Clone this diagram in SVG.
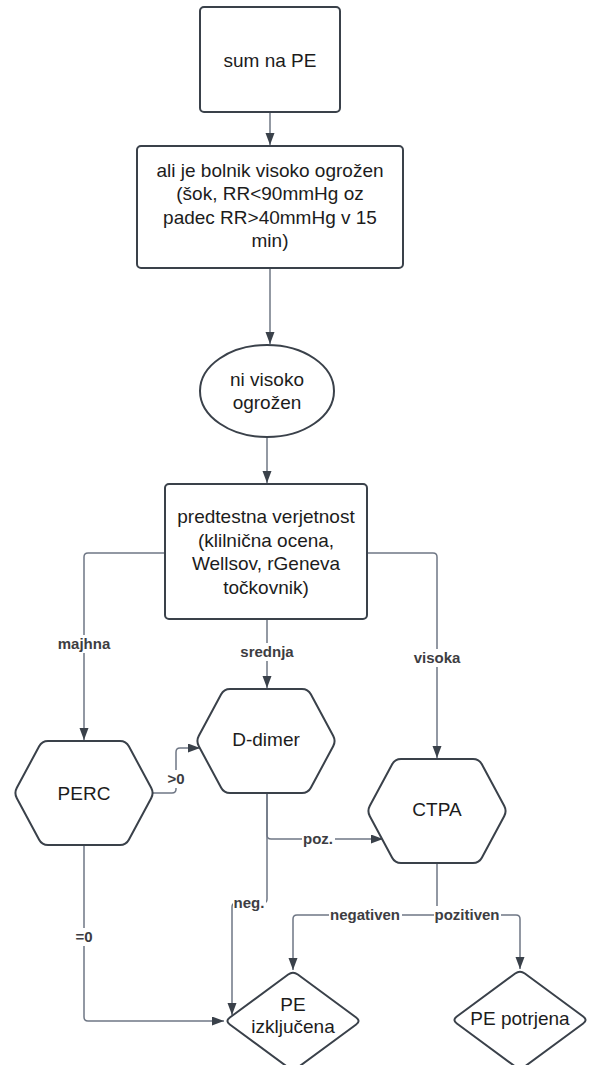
<svg xmlns="http://www.w3.org/2000/svg" xmlns:xlink="http://www.w3.org/1999/xlink" width="595" height="1065" viewBox="0 0 595 1065">
<style>
.shape{fill:#ffffff;stroke:#3a414a;stroke-width:2;}
.nt{font-family:"Liberation Sans",Arial,sans-serif;font-size:19px;fill:#1c1c1c;text-anchor:middle;}
.ln{fill:none;stroke:#6f7785;stroke-width:1.5;}
.lb{font-family:"Liberation Sans",Arial,sans-serif;font-size:15px;font-weight:bold;fill:#3d3d42;text-anchor:middle;}
.lbg{fill:#ffffff;stroke:none;}
</style>
<defs>
<marker id="arr" markerUnits="userSpaceOnUse" markerWidth="12" markerHeight="10" refX="12" refY="4.5" orient="auto">
<path d="M0,0 L12,4.5 L0,9 Z" fill="#3a414a"/>
</marker>
<path id="hex" d="M-36,-52 L36,-52 Q42,-52 44.84,-46.72 L67.16,-5.28 Q70,0 67.16,5.28 L44.84,46.72 Q42,52 36,52 L-36,52 Q-42,52 -44.84,46.72 L-67.16,5.28 Q-70,0 -67.16,-5.28 L-44.84,-46.72 Q-42,-52 -36,-52 Z"/>
<path id="dia" d="M4.83,-46.45 L63.17,-3.55 Q68,0 63.17,3.55 L4.83,46.45 Q0,50 -4.83,46.45 L-63.17,3.55 Q-68,0 -63.17,-3.55 L-4.83,-46.45 Q0,-50 4.83,-46.45 Z"/>
</defs>
<rect width="595" height="1065" fill="#ffffff"/>

<g id="connectors">
<path class="ln" d="M270,112 L270,145" marker-end="url(#arr)"/>
<path class="ln" d="M270,268 L270,344" marker-end="url(#arr)"/>
<path class="ln" d="M267,437 L267,483" marker-end="url(#arr)"/>
<path class="ln" d="M165,553 L88,553 Q84,553 84,557 L84,740" marker-end="url(#arr)"/>
<path class="ln" d="M267,619 L267,688" marker-end="url(#arr)"/>
<path class="ln" d="M367,553 L433,553 Q437,553 437,557 L437,758" marker-end="url(#arr)"/>
<path class="ln" d="M153,793 L172,793 Q176,793 176,789 L176,752 Q176,748 180,748 L200,748" marker-end="url(#arr)"/>
<path class="ln" d="M267,793 L267,835 Q267,839 271,839 L383,839" marker-end="url(#arr)"/>
<path class="ln" d="M267,793 L267,899 Q267,903 263,903 L236,903 Q232,903 232,907 L232,1015" marker-end="url(#arr)"/>
<path class="ln" d="M84,845 L84,1017 Q84,1021 88,1021 L224,1021" marker-end="url(#arr)"/>
<path class="ln" d="M437,863 L437,915 L297,915 Q293,915 293,919 L293,970" marker-end="url(#arr)"/>
<path class="ln" d="M437,915 L516,915 Q520,915 520,919 L520,969" marker-end="url(#arr)"/>

<rect class="lbg" x="56" y="635" width="56" height="18"/>
<text class="lb" x="84" y="649">majhna</text>
<rect class="lbg" x="239" y="643" width="56" height="18"/>
<text class="lb" x="267" y="657">srednja</text>
<rect class="lbg" x="412" y="649" width="50" height="18"/>
<text class="lb" x="437" y="663">visoka</text>
<rect class="lbg" x="166" y="770" width="20" height="18"/>
<text class="lb" x="176" y="784">&gt;0</text>
<rect class="lbg" x="302" y="830" width="33" height="18"/>
<text class="lb" x="318" y="844">poz.</text>
<rect class="lbg" x="233" y="894" width="33" height="18"/>
<text class="lb" x="249" y="908">neg.</text>
<rect class="lbg" x="74" y="928" width="20" height="18"/>
<text class="lb" x="84" y="942">=0</text>
<rect class="lbg" x="329" y="906" width="73" height="18"/>
<text class="lb" x="365" y="920">negativen</text>
<rect class="lbg" x="434" y="906" width="67" height="18"/>
<text class="lb" x="467" y="920">pozitiven</text>
</g>

<g id="node-sum">
<rect class="shape" x="200" y="7" width="140" height="105" rx="4"/>
<text class="nt" x="270" y="67">sum na PE</text>
</g>

<g id="node-visoko-ogrozen">
<rect class="shape" x="137" y="146" width="266" height="122" rx="4"/>
<text class="nt" x="270" y="177">ali je bolnik visoko ogrožen</text>
<text class="nt" x="270" y="200">(šok, RR&lt;90mmHg oz</text>
<text class="nt" x="270" y="224">padec RR&gt;40mmHg v 15</text>
<text class="nt" x="270" y="247">min)</text>
</g>

<g id="node-ni-visoko">
<ellipse class="shape" cx="267" cy="391" rx="67" ry="46"/>
<text class="nt" x="267" y="386">ni visoko</text>
<text class="nt" x="267" y="409">ogrožen</text>
</g>

<g id="node-predtestna">
<rect class="shape" x="165" y="484" width="202" height="135" rx="4"/>
<text class="nt" x="266" y="523">predtestna verjetnost</text>
<text class="nt" x="266" y="547">(klilnična ocena,</text>
<text class="nt" x="266" y="570">Wellsov, rGeneva</text>
<text class="nt" x="266" y="594">točkovnik)</text>
</g>

<g id="node-perc">
<use xlink:href="#hex" href="#hex" class="shape" transform="translate(84,793)"/>
<text class="nt" x="84" y="800">PERC</text>
</g>

<g id="node-ddimer">
<use xlink:href="#hex" href="#hex" class="shape" transform="translate(266,741)"/>
<text class="nt" x="266" y="746">D-dimer</text>
</g>

<g id="node-ctpa">
<use xlink:href="#hex" href="#hex" class="shape" transform="translate(437,811)"/>
<text class="nt" x="437" y="816">CTPA</text>
</g>

<g id="node-pe-izkljucena">
<use xlink:href="#dia" href="#dia" class="shape" transform="translate(293,1021)"/>
<text class="nt" x="293" y="1011">PE</text>
<text class="nt" x="293" y="1033">izključena</text>
</g>

<g id="node-pe-potrjena">
<use xlink:href="#dia" href="#dia" class="shape" transform="translate(520,1020)"/>
<text class="nt" x="520" y="1025">PE potrjena</text>
</g>
</svg>
